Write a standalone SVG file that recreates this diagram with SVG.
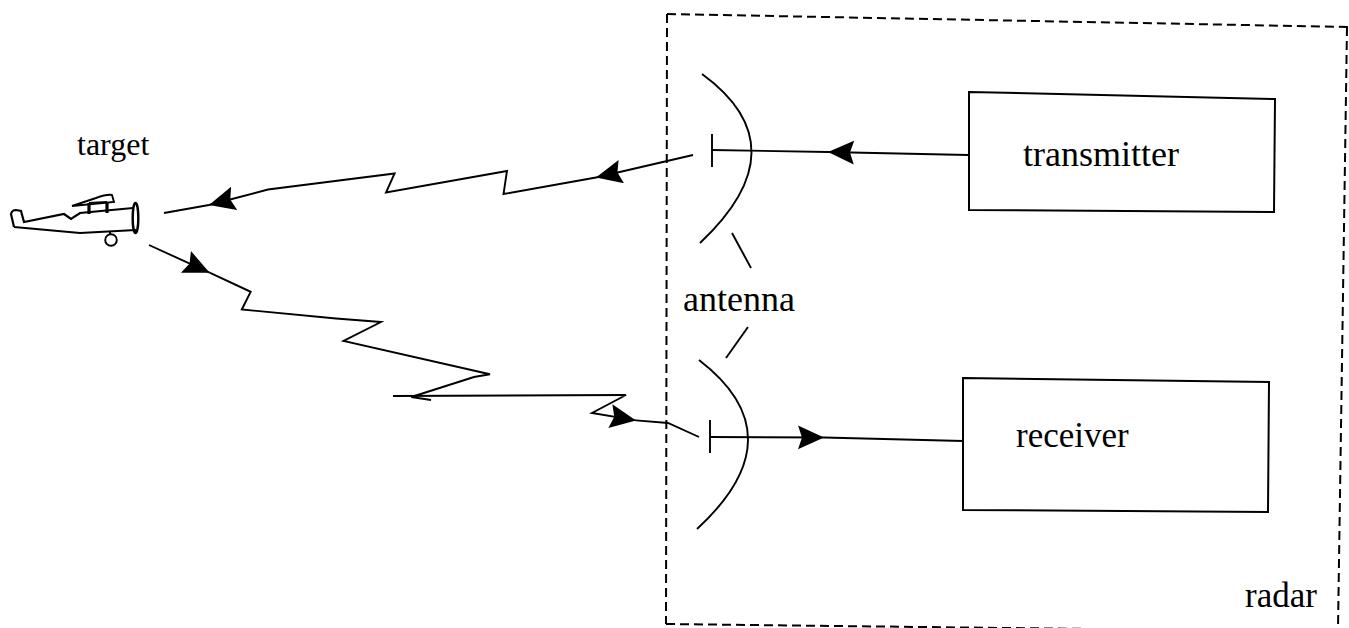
<svg xmlns="http://www.w3.org/2000/svg" width="1349" height="628" viewBox="0 0 1349 628">
  <style>
    .ln { fill: none; stroke: #000; stroke-width: 1.9; stroke-linejoin: miter; stroke-linecap: butt; }
    .box { fill: none; stroke: #000; stroke-width: 2; }
    .dash { fill: none; stroke: #000; stroke-width: 2; stroke-dasharray: 9 5; }
    .lbl { font-family: "Liberation Serif", "Times New Roman", serif; font-size: 35px; fill: #000; }
  </style>
  <defs>
    <marker id="arrow" markerUnits="userSpaceOnUse" markerWidth="30" markerHeight="26" refX="26" refY="12" orient="auto">
      <path d="M0,0 L26,12 L0,24 L4,12 Z" fill="#000"/>
    </marker>
  </defs>
  <rect width="1349" height="628" fill="#fff"/>

  <!-- radar enclosure -->
  <g id="radar">
    <path class="dash" d="M667,14 L1349,27"/>
    <path class="dash" d="M667,14 L666,624"/>
    <path class="dash" d="M666,624 L1349,632"/>
    <path class="dash" d="M1347,27 L1338,628"/>
    <text class="lbl" x="1245" y="607">radar</text>
  </g>

  <!-- target aircraft -->
  <g id="target">
    <text class="lbl" x="77" y="155" style="font-size:32px">target</text>
    <path class="ln" style="stroke-width:2.2" d="M14,227 L11,214 Q12,210 16,210 L21,211 L24,222 L64,214 L71,219 L80,213 L133,208 M136,230 L80,233 L14,227"/>
    <ellipse cx="135.5" cy="218" rx="2.8" ry="15" fill="none" stroke="#000" stroke-width="2.4"/>
    <path class="ln" d="M72,206 L96,198 Q107,194 112,195 L114,202 L72,206 Z"/>
    <path d="M89,203 L89,214 M107,202 L107,213" stroke="#000" stroke-width="3.2" fill="none"/>
    <path class="ln" d="M89,203 L107,202"/>
    <path class="ln" d="M110,231 L110,234"/>
    <circle cx="111" cy="240" r="5.8" fill="none" stroke="#000" stroke-width="1.9"/>
  </g>

  <!-- transmitting antenna -->
  <g id="tx-antenna">
    <path class="ln" d="M702,74 Q802,147 700,243"/>
    <path class="ln" d="M712,134 L712,167"/>
  </g>

  <!-- receiving antenna -->
  <g id="rx-antenna">
    <path class="ln" d="M699,360 Q798,436 697,529"/>
    <path class="ln" d="M710,420 L710,453"/>
  </g>

  <g id="antenna-label">
    <text class="lbl" x="683" y="311" style="font-size:36px">antenna</text>
    <path class="ln" d="M732,233 L751,268"/>
    <path class="ln" d="M748,327 L726,358"/>
  </g>

  <g id="transmitter">
    <path class="box" d="M969,92 L1275,99 L1274,212 L969,210 Z"/>
    <text class="lbl" x="1023" y="166" style="font-size:36px">transmitter</text>
  </g>

  <g id="receiver">
    <path class="box" d="M963,378 L1269,382 L1268,512 L963,510 Z"/>
    <text class="lbl" x="1016" y="447">receiver</text>
  </g>

  <!-- signal paths -->
  <g id="connectors">
    <path class="ln" d="M968,155 L828,152" marker-end="url(#arrow)"/>
    <path class="ln" d="M828,152 L712,150"/>

    <path class="ln" d="M693,155 L596,177.5" marker-end="url(#arrow)"/>
    <path class="ln" d="M596,177.5 L503.5,194 L507,171 L386,192.5 L394.6,173.5 L268,189.5 L209,205" marker-end="url(#arrow)"/>
    <path class="ln" d="M209,205 L164,213"/>

    <path class="ln" d="M149,245 L209.6,272.7" marker-end="url(#arrow)"/>
    <path class="ln" d="M209.6,272.7 L250.7,291.8 L241.8,309.5 L336,318.5 L381,322 L343.5,341 L490,374.3 L474,377 L411.3,397 L431,400"/>
    <path class="ln" d="M393,396 L626,395 L592,413 L636,420.4" marker-end="url(#arrow)"/>
    <path class="ln" d="M636,420.4 L668,423 L699,437"/>

    <path class="ln" d="M710,437 L824,437.5" marker-end="url(#arrow)"/>
    <path class="ln" d="M824,437.5 L963,441"/>
  </g>
</svg>
